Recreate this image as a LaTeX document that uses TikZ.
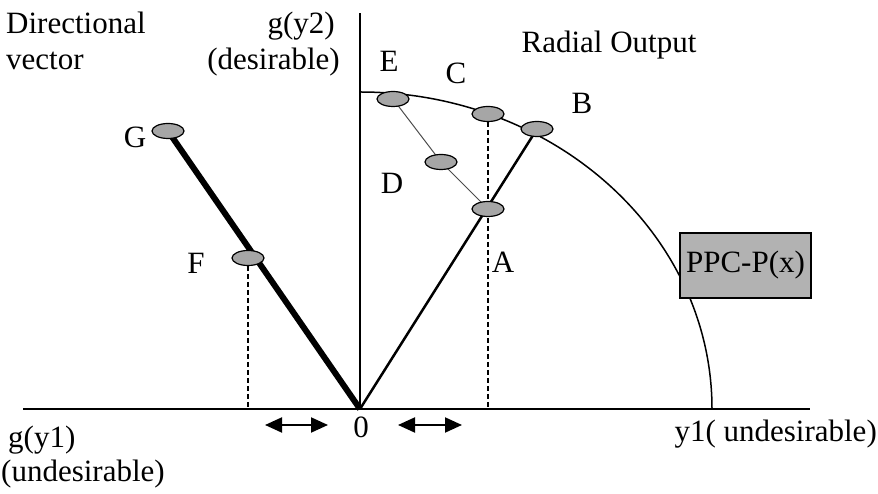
\documentclass[tikz,border=0pt]{standalone}
\usepackage{fontspec}
\setmainfont{Liberation Serif}
\usetikzlibrary{shapes.geometric,arrows.meta,backgrounds}

\begin{document}
\begin{tikzpicture}[x=1pt, y=1pt,
  lbl/.style={font=\fontsize{31}{33}\selectfont, inner sep=0pt},
  pt/.style={draw, ellipse, line width=1.2pt, fill=black!35, minimum width=32pt, minimum height=15pt, inner sep=0pt},
  axis/.style={line width=1.6pt},
  guide/.style={dashed, line width=1.2pt, dash pattern=on 5pt off 3pt},
  shift arrow/.style={{Triangle[length=17pt,width=15pt]}-{Triangle[length=17pt,width=15pt]}, line width=2pt}
]
  \useasboundingbox (0,0) rectangle (878,494);

  % Origin and axes
  \coordinate (O) at (360,85);
  \coordinate (xl) at (23,85);
  \coordinate (xr) at (810,85);
  \coordinate (yt) at (360,481);
  \draw[axis] (xl) -- (xr);
  \draw[line width=1.2pt] (O) -- (yt);

  % Output set frontier
  \draw[line width=1.5pt] (360,402) arc[start angle=90, end angle=0, x radius=352, y radius=317];

  % Points
  \node[pt] (ptE) at (393,395) {};
  \node[pt] (ptC) at (488,380) {};
  \node[pt] (ptB) at (537,365) {};
  \node[pt] (ptD) at (441,332) {};
  \node[pt] (ptA) at (488,285) {};
  \node[pt] (ptG) at (168,363) {};
  \node[pt] (ptF) at (248,236) {};

  % Connecting lines
  \begin{scope}[on background layer]
    \draw[line width=2.5pt] (O) -- (ptB.center);
    \draw[line width=6pt] (O) -- (ptG.center);
    \draw[line width=1pt, black!70] (ptE.center) -- (ptD.center) -- (ptA.center);
    \draw[guide] (ptC.center) -- (ptC |- O);
    \draw[guide] (ptF.center) -- (ptF |- O);
  \end{scope}

  % Point labels
  \node[lbl] (labE) at (389,433) {E};
  \node[lbl] (labC) at (456,421) {C};
  \node[lbl] (labB) at (582,391) {B};
  \node[lbl] (labD) at (392,311) {D};
  \node[lbl] (labA) at (503,232) {A};
  \node[lbl] (labF) at (196,231) {F};
  \node[lbl] (labG) at (135,357) {G};
  \node[lbl] (zero) at (361,67) {0};

  % Axis labels
  \node[lbl, anchor=base west] (dir1) at (6,460) {Directional};
  \node[lbl, anchor=base west] (dir2) at (6,424) {vector};
  \node[lbl, anchor=base east] (gy2) at (335,460) {g(y2)};
  \node[lbl, anchor=base east] (des) at (340,424) {(desirable)};
  \node[lbl] (radial) at (609,449) {Radial Output};
  \node[lbl, anchor=base west] (gy1) at (8,46) {g(y1)};
  \node[lbl, anchor=base west] (undes) at (1,12) {(undesirable)};
  \node[lbl, anchor=base east] (y1) at (877,52) {y1( undesirable)};

  % Frontier box
  \node[lbl, draw, line width=1.5pt, fill=black!30, minimum width=131pt, minimum height=65pt] (ppc) at (745.5,228.5) {PPC-P(x)};

  % Shift arrows
  \coordinate (la1) at (265,69);
  \coordinate (la2) at (328,69);
  \coordinate (ra1) at (398,69);
  \coordinate (ra2) at (462,69);
  \draw[shift arrow] (la1) -- (la2);
  \draw[shift arrow] (ra1) -- (ra2);
\end{tikzpicture}
\end{document}
